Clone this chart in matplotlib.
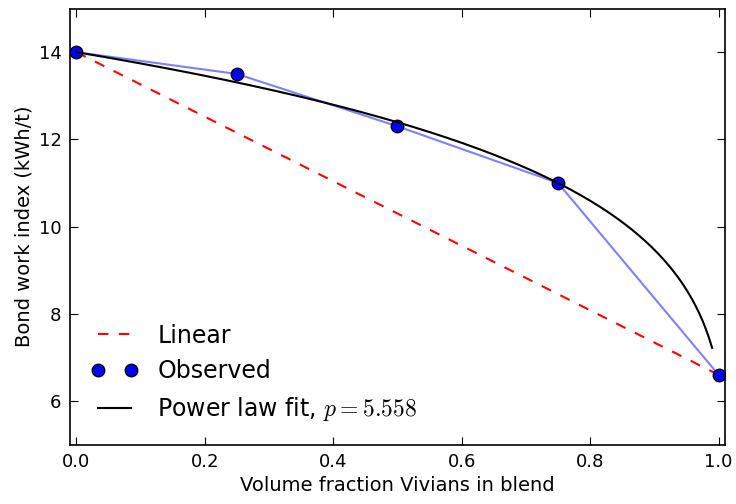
import numpy as np
import matplotlib
matplotlib.use('Agg')
import matplotlib.pyplot as plt

# Observed Bond work index of blends
fraction = [0.0, 0.25, 0.5, 0.75, 1.0]
work_index = [14.0, 13.5, 12.3, 11.0, 6.6]
p_fit = 5.558

plt.rcParams['mathtext.fontset'] = 'cm'
plt.rcParams['xtick.direction'] = 'in'
plt.rcParams['ytick.direction'] = 'in'
plt.rcParams['xtick.top'] = True
plt.rcParams['ytick.right'] = True
plt.rcParams['xtick.major.size'] = 6
plt.rcParams['ytick.major.size'] = 6

fig, ax = plt.subplots(figsize=(7.36, 5.04), dpi=100)
fig.subplots_adjust(left=0.095, right=0.985, bottom=0.118, top=0.983)

w0, w1 = work_index[0], work_index[-1]
ax.plot([fraction[0], fraction[-1]], [w0, w1], 'r--', lw=1.5, dashes=(5, 5), label='Linear')
ax.plot(fraction, work_index, '-', color='blue', alpha=0.5, lw=1.5)
ax.plot(fraction, work_index, 'o', color='blue', mec='black', ms=9, label='Observed')

# power law mixing curve from the fitted exponent
xf = np.linspace(0, 0.99, 200)
yf = ((1 - xf) * w0 ** p_fit + xf * w1 ** p_fit) ** (1 / p_fit)
ax.plot(xf, yf, 'k-', lw=1.5, label=r'Power law fit, $p=%.3f$' % p_fit)

ax.set_xlim(-0.01, 1.01)
ax.set_ylim(5, 15)
ax.set_xticks([0.0, 0.2, 0.4, 0.6, 0.8, 1.0])
ax.set_yticks([6, 8, 10, 12, 14])
ax.tick_params(labelsize=13, pad=6)
for s in ax.spines.values():
    s.set_linewidth(1.2)
ax.set_xlabel('Volume fraction Vivians in blend', fontsize=14)
ax.set_ylabel('Bond work index (kWh/t)', fontsize=14)
ax.legend(loc='lower left', frameon=False, numpoints=2, fontsize=17)

fig.savefig('out.png', dpi=100)
